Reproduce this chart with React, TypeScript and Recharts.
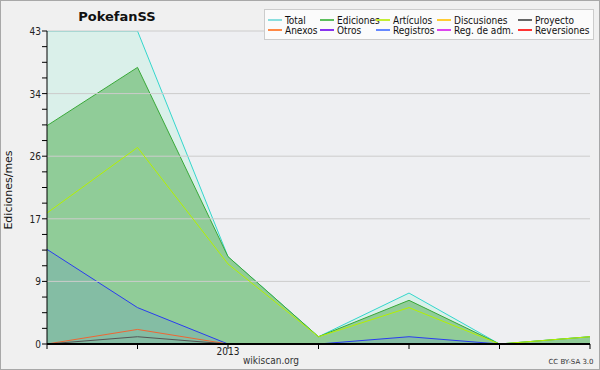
import React from 'react';
import { ComposedChart, Area, Line, XAxis, YAxis, CartesianGrid, ReferenceLine } from 'recharts';

const months = ['2012-11', '2012-12', '2013-01', '2013-02', '2013-03', '2013-04', '2013-05'];
const tickLabels = ['', '', '2013', '', '', '', ''];
const total = [43, 43, 12, 1, 7, 0, 1];
const ediciones = [30, 38, 12, 1, 6, 0, 1];
const articulos = [18, 27, 11, 1, 5, 0, 1];
const registros = [13, 5, 0, 0, 1, 0, 0];
const anexos = [0, 2, 0, 0, 0, 0, 0];
const proyecto = [0, 1, 0, 0, 0, 0, 0];

const yMax = 43;
const majorTicks = [0, 8.6, 17.2, 25.8, 34.4, 43];
const allTicks: number[] = [];
for (let i = 0; i <= 20; i++) allTicks.push(+(i * 2.15).toFixed(2));

const legendItems = [
  { name: 'Total', color: '#8adede' },
  { name: 'Ediciones', color: '#5cbf5c' },
  { name: 'Artículos', color: '#c4ee33' },
  { name: 'Discusiones', color: '#ffcc33' },
  { name: 'Proyecto', color: '#666666' },
  { name: 'Anexos', color: '#ff8844' },
  { name: 'Otros', color: '#8833ee' },
  { name: 'Registros', color: '#6688ff' },
  { name: 'Reg. de adm.', color: '#dd44ee' },
  { name: 'Reversiones', color: '#ff3333' },
];
const legendCols = [267, 319, 375, 436, 517];

const data = months.map((m, i) => ({
  i,
  month: m,
  total: total[i],
  ediciones: ediciones[i],
  articulos: articulos[i],
  registros: registros[i],
  anexos: anexos[i],
  proyecto: proyecto[i],
}));

const font = 'DejaVu Sans, Verdana, sans-serif';
const condensed = '"DejaVu Sans Condensed", "DejaVu Sans", sans-serif';

const YTick = (props: any) => {
  const { x, y, payload } = props;
  const v = payload.value;
  const isMajor = majorTicks.some((t) => Math.abs(t - v) < 0.05);
  return (
    <g>
      <line x1={x - 5} x2={x} y1={y} y2={y} stroke="#000" strokeWidth={1} />
      {isMajor && (
        <text x={x - 6} y={y} dy={4} textAnchor="end" fontSize={10} fill="#222" fontFamily={condensed}>
          {Math.round(v)}
        </text>
      )}
    </g>
  );
};

const XTick = (props: any) => {
  const { x, y, payload } = props;
  const label = tickLabels[payload.value] || '';
  return (
    <g>
      <line x1={x} x2={x} y1={y} y2={y + 5} stroke="#000" strokeWidth={1} />
      {label && (
        <text x={x} y={y + 11} textAnchor="middle" fontSize={10} fill="#222" fontFamily={condensed}>
          {label}
        </text>
      )}
    </g>
  );
};

export default function App() {
  return (
    <div
      style={{
        position: 'absolute',
        left: 0,
        top: 0,
        width: 600,
        height: 370,
        background: '#f0f0f0',
        border: '1px solid #a8a8a8',
        boxSizing: 'border-box',
        fontFamily: font,
        overflow: 'hidden',
      }}
    >
      <div style={{ position: 'absolute', left: -1, top: -1 }}>
        <ComposedChart width={600} height={370} data={data} margin={{ top: 31, right: 10, bottom: 0, left: 0 }}>
          <CartesianGrid horizontal={false} vertical={false} fill="#eeeff2" />
          {majorTicks.slice(1).map((t) => (
            <ReferenceLine key={t} y={t} stroke="#cccccc" strokeWidth={1} ifOverflow="visible" />
          ))}
          <XAxis
            dataKey="i"
            type="number"
            domain={[0, 6]}
            ticks={[0, 1, 2, 3, 4, 5, 6]}
            height={26}
            tickLine={false}
            tickSize={0}
            tickMargin={0}
            tick={<XTick />}
            axisLine={{ stroke: '#000', strokeWidth: 2 }}
            interval={0}
          />
          <YAxis
            type="number"
            domain={[0, yMax]}
            ticks={allTicks}
            width={47}
            tickLine={false}
            tickSize={0}
            tickMargin={0}
            tick={<YTick />}
            axisLine={{ stroke: '#000', strokeWidth: 1 }}
            interval={0}
            allowDataOverflow
          />
          <Area type="linear" dataKey="total" stroke="#33d6cc" strokeWidth={1} fill="#daf0ea" fillOpacity={1} isAnimationActive={false} dot={false} />
          <Area type="linear" dataKey="ediciones" stroke="#38a838" strokeWidth={1} fill="#90cc98" fillOpacity={1} isAnimationActive={false} dot={false} />
          <Area type="linear" dataKey="registros" stroke="#2a3cf0" strokeWidth={1} fill="#3050ff" fillOpacity={0.12} isAnimationActive={false} dot={false} />
          <Line type="linear" dataKey="articulos" stroke="#b4f000" strokeWidth={1} dot={false} isAnimationActive={false} />
          <Line type="linear" dataKey="anexos" stroke="#ee6633" strokeWidth={1} dot={false} isAnimationActive={false} />
          <Line type="linear" dataKey="proyecto" stroke="#555555" strokeWidth={1} dot={false} isAnimationActive={false} />
        </ComposedChart>
      </div>

      <div style={{ position: 'absolute', left: 66, top: 8, width: 100, textAlign: 'center', fontSize: 13, fontWeight: 'bold', color: '#111' }}>
        PokefanSS
      </div>

      <div
        style={{
          position: 'absolute',
          left: 8 - 50,
          top: 189 - 7,
          width: 100,
          height: 14,
          lineHeight: '14px',
          textAlign: 'center',
          fontSize: 11,
          color: '#111',
          transform: 'rotate(-90deg)',
          transformOrigin: '50% 50%',
        }}
      >
        Ediciones/mes
      </div>

      <div style={{ position: 'absolute', left: 220, top: 354, width: 100, textAlign: 'center', fontSize: 10, color: '#333', fontFamily: condensed }}>
        wikiscan.org
      </div>
      <div style={{ position: 'absolute', left: 530, top: 357, width: 80, textAlign: 'center', fontSize: 7, color: '#333' }}>
        CC BY-SA 3.0
      </div>

      <div
        style={{
          position: 'absolute',
          left: 263,
          top: 8,
          width: 330,
          height: 31,
          background: '#fbfbfb',
          border: '1px solid #cccccc',
          boxSizing: 'border-box',
        }}
      />
      {legendItems.map((it, k) => {
        const col = k % 5;
        const row = Math.floor(k / 5);
        const x = legendCols[col];
        const y = row === 0 ? 19 : 29;
        return (
          <div key={it.name} style={{ position: 'absolute', left: x, top: y - 6, height: 12, display: 'flex', alignItems: 'center', fontSize: 10, fontFamily: condensed, color: '#111', whiteSpace: 'nowrap' }}>
            <span style={{ display: 'inline-block', width: 14, height: 2, background: it.color, marginRight: 3 }} />
            {it.name}
          </div>
        );
      })}
    </div>
  );
}
